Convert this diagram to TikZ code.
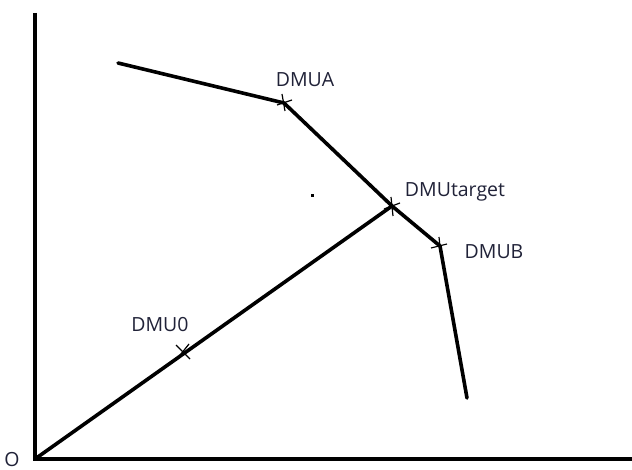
\documentclass[tikz,border=0pt]{standalone}
\usepackage{fontspec}
\setmainfont{Open Sans}
\definecolor{labelink}{RGB}{32,34,56}
\begin{document}
\begin{tikzpicture}[x=1pt,y=-1pt,
    axis/.style={line width=4pt},
    frontier/.style={line width=3.6pt, line join=round, line cap=round},
    tick/.style={line width=1.2pt},
    lbl/.style={font=\fontsize{19.5}{22}\selectfont, text=labelink, inner sep=0pt}]
  \useasboundingbox (0,0) rectangle (632,470);

  % points
  \coordinate (O) at (35,459);
  \coordinate (ytop) at (35,13);
  \coordinate (xend) at (632,459);
  \coordinate (fstart) at (118,63);
  \coordinate (A) at (284,103);
  \coordinate (T) at (392,206);
  \coordinate (B) at (440,246);
  \coordinate (fend) at (467,398);
  \coordinate (D0) at (183,352);

  % axes
  \draw[axis] (ytop) -- (O |- xend) -- (xend);

  % ray from the origin and the frontier
  \draw[frontier] (O) -- (T);
  \draw[frontier] (fstart) -- (A) -- (T) -- (B) -- (fend);

  % cross marks on the points
  \draw[tick] ([shift={(-2,-9)}]A) -- ([shift={(1,8)}]A);
  \draw[tick] ([shift={(-7,2)}]A) -- ([shift={(8,-3)}]A);
  \draw[tick] ([shift={(-1,-9)}]T) -- ([shift={(1,10)}]T);
  \draw[tick] ([shift={(-8,3)}]T) -- ([shift={(8,-3)}]T);
  \draw[tick] ([shift={(-1,-9)}]B) -- ([shift={(1,10)}]B);
  \draw[tick] ([shift={(-9,2)}]B) -- ([shift={(7,-2)}]B);
  \draw[tick] ([shift={(-7,-7)}]D0) -- ([shift={(7,7)}]D0);
  \draw[tick] ([shift={(-6,7)}]D0) -- ([shift={(6,-8)}]D0);

  % stray dot
  \fill (311,194) rectangle (314,197);

  % labels
  \node[lbl] (lA) at (305,80) {DMUA};
  \node[lbl] (lT) at (455,192) {DMUtarget};
  \node[lbl] (lB) at (494,252) {DMUB};
  \node[lbl] (l0) at (160,325) {DMU0};
  \node[lbl] (lO) at (12,460) {O};
\end{tikzpicture}
\end{document}
